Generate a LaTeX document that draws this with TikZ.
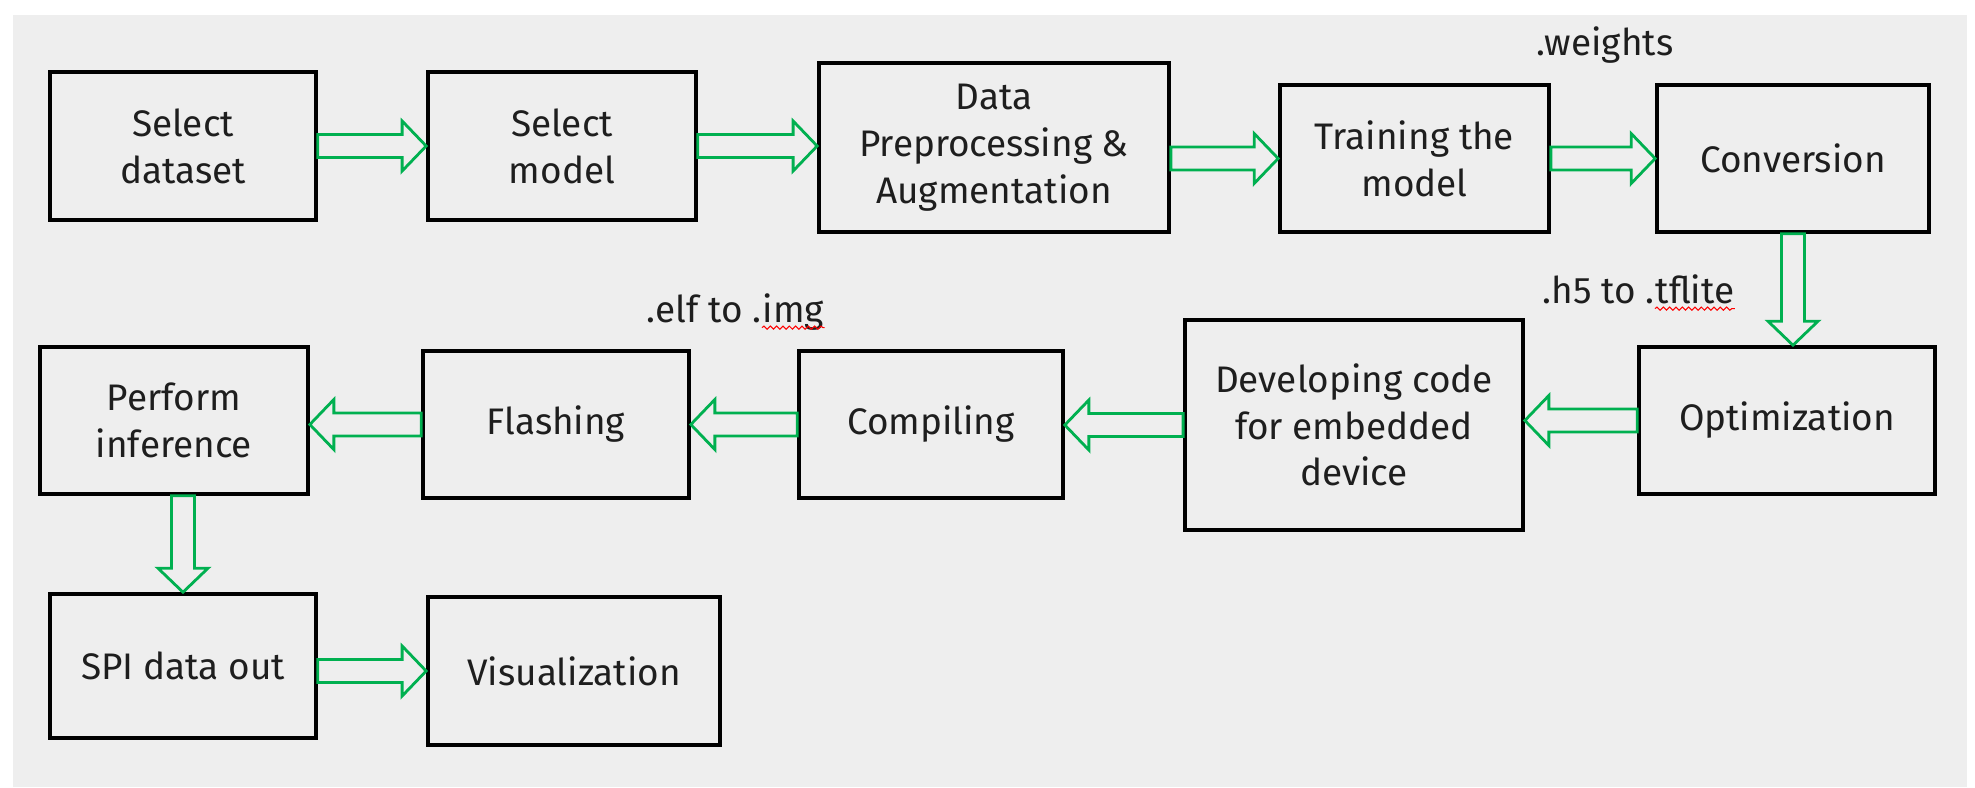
\documentclass[tikz,border=0pt]{standalone}
\usepackage{fontspec}
\setmainfont{Fira Sans}
\usetikzlibrary{calc,decorations.pathmorphing}
\definecolor{sheet}{HTML}{EEEEEE}
\definecolor{flowgreen}{HTML}{00B050}
\definecolor{ink}{HTML}{1E1E1E}
\tikzset{
	stage/.style={draw,line width=1pt,align=center,inner sep=0,text=ink,font=\fontsize{10.5}{13.3}\selectfont},
	note/.style={inner sep=0,text=ink,font=\fontsize{10.5}{13.3}\selectfont},
	spell/.style={draw=red,line width=0.3pt,decorate,decoration={snake,amplitude=0.45pt,segment length=1.8pt}},
	flowarr/.style={draw=flowgreen,line width=0.8pt,to path={
		($(\tikztostart)!0.115cm!90:(\tikztotarget)$) --
		($(\tikztotarget)!0.24cm!(\tikztostart)!0.115cm!-90:(\tikztostart)$) --
		($(\tikztotarget)!0.24cm!(\tikztostart)!0.25cm!-90:(\tikztostart)$) --
		(\tikztotarget) --
		($(\tikztotarget)!0.24cm!(\tikztostart)!0.25cm!90:(\tikztostart)$) --
		($(\tikztotarget)!0.24cm!(\tikztostart)!0.115cm!90:(\tikztostart)$) --
		($(\tikztostart)!0.115cm!-90:(\tikztotarget)$) -- cycle}},
}
\begin{document}
\begin{tikzpicture}[x=0.01cm,y=-0.01cm]
	\useasboundingbox (0,0) rectangle (1975,787);
	\fill[sheet] (13,15) rectangle (1967,787);
	\node[stage,minimum width=2.66cm,minimum height=1.48cm] (1) at (183,146) {Select\\dataset};
	\node[stage,minimum width=2.68cm,minimum height=1.48cm] (2) at (562,146) {Select\\model};
	\node[stage,minimum width=3.50cm,minimum height=1.69cm] (3) at (994,147.5) {Data\\Preprocessing \&\\Augmentation};
	\node[stage,minimum width=2.69cm,minimum height=1.47cm] (4) at (1414.5,158.5) {Training the\\model};
	\node[stage,minimum width=2.72cm,minimum height=1.47cm] (5) at (1793,158.5) {Conversion};
	\node[stage,minimum width=2.96cm,minimum height=1.47cm] (6) at (1787,420.5) {Optimization};
	\node[stage,minimum width=3.38cm,minimum height=2.10cm] (7) at (1354,425) {Developing code\\for embedded\\device};
	\node[stage,minimum width=2.64cm,minimum height=1.47cm] (8) at (931,424.5) {Compiling};
	\node[stage,minimum width=2.66cm,minimum height=1.47cm] (9) at (556,424.5) {Flashing};
	\node[stage,minimum width=2.68cm,minimum height=1.47cm] (10) at (174,420.5) {Perform\\inference};
	\node[stage,minimum width=2.66cm,minimum height=1.44cm] (11) at (183,666) {SPI data out};
	\node[stage,minimum width=2.92cm,minimum height=1.48cm] (12) at (574,671) {Visualization};
	\node[note] (w) at (1605,45) {.weights};
	\node[note,anchor=base east] (t) at (1655,303) {.h5 to .};
	\node[note,anchor=base west] (tw) at (t.base east) {tflite};
	\node[note,anchor=base east] (e) at (762,322) {.elf to .};
	\node[note,anchor=base west] (ew) at (e.base east) {img};
	\draw[spell] ([yshift=-1.6pt]tw.base west) -- ([yshift=-1.6pt]tw.base east);
	\draw[spell] ([yshift=-1.6pt]ew.base west) -- ([yshift=-1.6pt]ew.base east);
	\draw[flowarr] (1.east) to (2.west);
	\draw[flowarr] (2.east) to (3.west |- 2.east);
	\draw[flowarr] (3.east |- 4.west) to (4.west);
	\draw[flowarr] (4.east) to (5.west);
	\draw[flowarr] (5.south) to (5.south |- 6.north);
	\draw[flowarr] (6.west) to (6.west -| 7.east);
	\draw[flowarr] (7.west) to (7.west -| 8.east);
	\draw[flowarr] (8.west) to (9.east);
	\draw[flowarr] (9.west) to (9.west -| 10.east);
	\draw[flowarr] (10.south -| 11.north) to (11.north);
	\draw[flowarr] (11.east |- 12.west) to (12.west);
\end{tikzpicture}
\end{document}
